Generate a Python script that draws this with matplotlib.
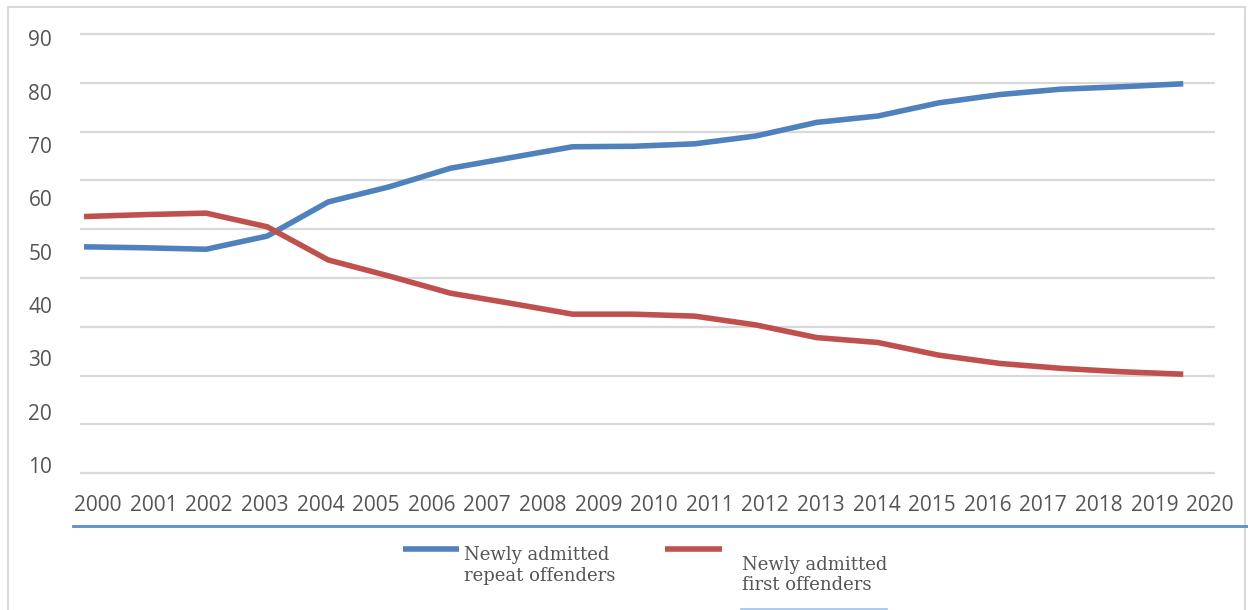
import numpy as np
import matplotlib.pyplot as plt
from matplotlib.lines import Line2D
from matplotlib.patches import Rectangle

# share of newly admitted prisoners, per year
repeat_offenders = [46.4, 46.2, 45.9, 48.6, 55.6, 58.7, 62.5, 64.7, 66.9, 67.0,
                    67.5, 69.1, 71.9, 73.2, 75.9, 77.6, 78.7, 79.2, 79.8]
first_offenders = [52.6, 53.0, 53.3, 50.5, 43.7, 40.4, 36.9, 34.8, 32.6, 32.6,
                   32.2, 30.4, 27.8, 26.8, 24.2, 22.5, 21.5, 20.8, 20.3]
year_labels = [str(y) for y in range(2000, 2021)]
value_labels = ['90', '80', '70', '60', '50', '40', '30', '20', '10']

W, H = 1248, 610
fig = plt.figure(figsize=(W / 100, H / 100), dpi=100)

# axes box in pixels: gridline 0 at y=473.3, 90 at y=34, x from 80 to 1215
ppu = (473.3 - 34) / 90
ax = fig.add_axes([80 / W, 1 - (473.3 + ppu) / H, (1215 - 80) / W, (473.3 - 34 + 2 * ppu) / H])

x = np.arange(len(repeat_offenders))
ax.plot(x, repeat_offenders, color='#4f81bd', lw=4, solid_capstyle='butt', solid_joinstyle='round')
ax.plot(x, first_offenders, color='#c0504d', lw=4, solid_capstyle='butt', solid_joinstyle='round')

ax.set_xlim(-0.066, 18.52)
ax.set_ylim(-1, 91)
for s in ax.spines.values():
    s.set_visible(False)

# gridlines on the real scale, labels where the source put them
ax.set_yticks(np.arange(0, 91, 10), minor=True)
ax.grid(which='minor', axis='y', color='#d9d9d9', lw=1.6)
ax.set_axisbelow(True)
ax.set_yticks(np.linspace(89.1, 1.7, 9))
ax.set_yticklabels(value_labels)
ax.set_xticks(np.linspace(0.229, 18.44, 21))
ax.set_xticklabels(year_labels)
ax.tick_params(which='both', length=0)
ax.tick_params(axis='y', pad=20, labelsize=15, labelcolor='#555555')
ax.tick_params(axis='x', pad=12, labelsize=15, labelcolor='#555555')
for lab in ax.get_xticklabels() + ax.get_yticklabels():
    lab.set_fontfamily('Open Sans')

# outer frame and the blue rule under the year labels
fig.patches.append(Rectangle((8 / W, -0.02), (1245 - 8) / W, 1 - 7 / H + 0.02,
                             transform=fig.transFigure, fill=False, ec='#d9d9d9', lw=1.5))
fig.lines.append(Line2D([73 / W, 1.0], [1 - 526 / H] * 2, transform=fig.transFigure,
                        color='#5b8dcb', lw=2))

# legend
fig.lines.append(Line2D([403 / W, 459 / W], [1 - 549 / H] * 2, transform=fig.transFigure,
                        color='#4f81bd', lw=4, solid_capstyle='butt'))
fig.lines.append(Line2D([665 / W, 722 / W], [1 - 549 / H] * 2, transform=fig.transFigure,
                        color='#c0504d', lw=4, solid_capstyle='butt'))
fig.text(464 / W, 1 - 565.5 / H, 'Newly admitted\nrepeat offenders', family='DejaVu Serif',
         fontsize=13, color='#555555', va='center', ha='left', linespacing=1.2)
fig.text(742 / W, 1 - 575 / H, 'Newly admitted\nfirst offenders', family='DejaVu Serif',
         fontsize=13, color='#555555', va='center', ha='left', linespacing=1.2)
fig.lines.append(Line2D([741 / W, 886 / W], [1 - 608.5 / H] * 2, transform=fig.transFigure,
                        color='#a9c7e8', lw=2))

fig.savefig('out.png', dpi=100)
